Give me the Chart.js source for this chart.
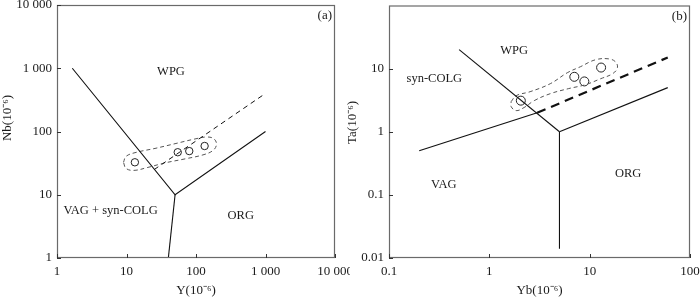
<!DOCTYPE html>
<html><head><meta charset="utf-8">
<script src="https://cdn.jsdelivr.net/npm/chart.js@4.4.1/dist/chart.umd.min.js"></script>
<style>
html,body{margin:0;padding:0;background:#fff;}
#wrap{position:relative;width:700px;height:298px;overflow:hidden;}
.pane{position:absolute;top:0;height:298px;}
</style></head><body>
<div id="wrap">
<div class="pane" style="left:0;width:350px"><canvas id="ca"></canvas></div>
<div class="pane" style="left:345px;width:355px"><canvas id="cb"></canvas></div>
</div>
<script>
// ---------- Panel (a): Nb vs Y ----------
const aXTicks = [1, 10, 100, 1000, 10000];
const aXTickLabels = ['1', '10', '100', '1 000', '10 000'];
const aYTicks = [1, 10, 100, 1000, 10000];
const aYTickLabels = ['1', '10', '100', '1 000', '10 000'];
const aSampleY = [13.2, 54.6, 80, 133];
const aSampleNb = [32.6, 47, 49, 59];
const aLine1Y = [1.66, 50, 1000];
const aLine1Nb = [1000, 10, 100];
const aLine2Y = [50, 40];
const aLine2Nb = [10, 1];
const aDashY = [25, 1000];
const aDashNb = [25, 400];
const aEnvY = [9.06, 9.84, 13.7, 25.7, 51.5, 96.8, 144, 182, 197, 176, 126, 69.5, 35.8, 20.4, 12.8, 9.84, 9.06];
const aEnvNb = [32.5, 40.4, 46.7, 54.0, 64.7, 76.2, 81.9, 76.2, 62.4, 50.2, 42.7, 36.9, 31.9, 27.1, 24.3, 26.1, 32.5];
const aRegionText = ['WPG', 'VAG + syn-COLG', 'ORG'];
const aRegionY = [43.7, 5.9, 441];
const aRegionNb = [871, 5.6, 4.7];

// ---------- Panel (b): Ta vs Yb ----------
const bXTicks = [0.1, 1, 10, 100];
const bXTickLabels = ['0.1', '1', '10', '100'];
const bYTicks = [0.01, 0.1, 1, 10];
const bYTickLabels = ['0.01', '0.1', '1', '10'];
const bSampleYb = [2.06, 7.03, 8.85, 13.0];
const bSampleTa = [3.11, 7.42, 6.27, 10.4];
const bWpgYb = [0.5, 5];
const bWpgTa = [20, 1];
const bOrgYb = [5, 60];
const bOrgTa = [1, 5];
const bVertYb = [5, 5];
const bVertTa = [1, 0.014];
const bVagYb = [0.2, 3];
const bVagTa = [0.5, 2];
const bDashYb = [3, 60];
const bDashTa = [2, 15];
const bEnvYb = [1.65, 1.85, 2.55, 4.05, 5.98, 8.07, 11.4, 15.4, 18.1, 18.9, 16.9, 12.8, 9.06, 6.12, 4.05, 2.80, 2.22, 1.85, 1.65, 1.65];
const bEnvTa = [3.0, 3.73, 4.31, 5.77, 8.6, 10.7, 13.8, 14.3, 12.8, 10.3, 8.3, 6.9, 5.56, 4.81, 4.01, 3.11, 2.42, 2.16, 2.5, 3.0];
const bRegionText = ['WPG', 'syn-COLG', 'VAG', 'ORG'];
const bRegionYb = [1.77, 0.283, 0.352, 24.2];
const bRegionTa = [19.4, 6.84, 0.144, 0.214];

const SERIF = '"Liberation Serif", "Times New Roman", serif';
const pts = (xs, ys) => xs.map((v, i) => ({x: v, y: ys[i]}));

const decor = {
  id: 'decor',
  afterDraw(chart, args, o) {
    const {ctx, chartArea: ca} = chart;
    const x = chart.scales.x, y = chart.scales.y;
    ctx.save();
    ctx.strokeStyle = '#6a6a6a'; ctx.lineWidth = 1.2;
    ctx.strokeRect(ca.left + 0.5, ca.top + 0.5, ca.right - ca.left - 1, ca.bottom - ca.top - 1);
    ctx.strokeStyle = '#333'; ctx.lineWidth = 1;
    o.xTicks.forEach(v => {
      const px = Math.round(x.getPixelForValue(v)) + 0.5;
      ctx.beginPath(); ctx.moveTo(px, ca.bottom); ctx.lineTo(px, ca.bottom - 4); ctx.stroke();
    });
    o.yTicks.forEach(v => {
      const py = Math.round(y.getPixelForValue(v)) + 0.5;
      ctx.beginPath(); ctx.moveTo(ca.left, py); ctx.lineTo(ca.left + 4, py); ctx.stroke();
    });
    ctx.fillStyle = '#1a1a1a';
    ctx.font = '12.5px ' + SERIF; ctx.textAlign = 'center'; ctx.textBaseline = 'middle';
    o.text.forEach((t, i) => ctx.fillText(t, x.getPixelForValue(o.tx[i]), y.getPixelForValue(o.ty[i])));
    ctx.font = '13px ' + SERIF; ctx.textAlign = 'right';
    ctx.fillText(o.tag, ca.right - 3, ca.top + 11);
    ctx.translate(o.yTitleX, ca.top + o.yTitleDy); ctx.rotate(-Math.PI / 2);
    ctx.textAlign = 'center'; ctx.fillText(o.yTitle, 0, 0);
    ctx.restore();
  }
};

function makeChart(id, cfg) {
  const tickFont = {family: SERIF, size: 13};
  return new Chart(document.getElementById(id), {
    type: 'scatter',
    data: {datasets: cfg.datasets},
    options: {
      responsive: true, maintainAspectRatio: false, animation: false,
      layout: {padding: {top: 4, right: cfg.padRight, left: 0, bottom: 0}},
      plugins: {legend: {display: false}, tooltip: {enabled: false}, decor: cfg.decor},
      scales: {
        x: {
          type: 'logarithmic', min: cfg.xMin, max: cfg.xMax,
          afterBuildTicks: s => { s.ticks = cfg.xTicks.map(v => ({value: v})); },
          afterFit: s => { s.height = 40; s.paddingLeft = 0; s.paddingRight = 0; },
          ticks: {autoSkip: false, maxRotation: 0, padding: 6, color: '#1a1a1a', font: tickFont,
            callback: v => cfg.xTickLabels[cfg.xTicks.indexOf(v)]},
          grid: {display: false, drawTicks: false}, border: {display: false},
          title: {display: true, text: cfg.xTitle, color: '#1a1a1a', font: tickFont, padding: {top: 0, bottom: 0}}
        },
        y: {
          type: 'logarithmic', min: cfg.yMin, max: cfg.yMax,
          afterBuildTicks: s => { s.ticks = cfg.yTicks.map(v => ({value: v})); },
          afterFit: s => { s.width = cfg.yWidth; s.paddingTop = 0; s.paddingBottom = 0; },
          ticks: {autoSkip: false, padding: 5, color: '#1a1a1a', font: tickFont,
            callback: v => cfg.yTickLabels[cfg.yTicks.indexOf(v)]},
          grid: {display: false, drawTicks: false}, border: {display: false}
        }
      }
    },
    plugins: [decor]
  });
}

const lineDs = (data, extra) => Object.assign({data, showLine: true, pointRadius: 0, borderColor: '#111', borderWidth: 1.1, fill: false, tension: 0}, extra || {});

makeChart('ca', {
  xMin: 1, xMax: 10000, yMin: 1, yMax: 10000,
  xTicks: aXTicks, xTickLabels: aXTickLabels, yTicks: aYTicks, yTickLabels: aYTickLabels,
  xTitle: 'Y(10⁻⁶)', yWidth: 57, padRight: 15,
  datasets: [
    lineDs(pts(aLine1Y, aLine1Nb)),
    lineDs(pts(aLine2Y, aLine2Nb)),
    lineDs(pts(aDashY, aDashNb), {borderDash: [5, 4], borderWidth: 1}),
    lineDs(pts(aEnvY, aEnvNb), {borderDash: [4, 3], borderWidth: 1, borderColor: '#555', tension: 0.4}),
    {data: pts(aSampleY, aSampleNb), showLine: false, pointRadius: 3.7, pointBorderWidth: 1, pointBorderColor: '#222', pointBackgroundColor: 'rgba(255,255,255,0)'}
  ],
  decor: {xTicks: aXTicks, yTicks: aYTicks, text: aRegionText, tx: aRegionY, ty: aRegionNb,
    tag: '(a)', yTitle: 'Nb(10⁻⁶)', yTitleX: 8, yTitleDy: 113}
});

makeChart('cb', {
  xMin: 0.1, xMax: 100, yMin: 0.01, yMax: 100,
  xTicks: bXTicks, xTickLabels: bXTickLabels, yTicks: bYTicks, yTickLabels: bYTickLabels,
  xTitle: 'Yb(10⁻⁶)', yWidth: 44, padRight: 10,
  datasets: [
    lineDs(pts(bWpgYb, bWpgTa)),
    lineDs(pts(bOrgYb, bOrgTa)),
    lineDs(pts(bVertYb, bVertTa)),
    lineDs(pts(bVagYb, bVagTa)),
    lineDs(pts(bDashYb, bDashTa), {borderDash: [9, 6], borderWidth: 2.2}),
    lineDs(pts(bEnvYb, bEnvTa), {borderDash: [4, 3], borderWidth: 1, borderColor: '#555', tension: 0.4}),
    {data: pts(bSampleYb, bSampleTa), showLine: false, pointRadius: 4.5, pointBorderWidth: 1, pointBorderColor: '#222', pointBackgroundColor: 'rgba(255,255,255,0)'}
  ],
  decor: {xTicks: bXTicks, yTicks: bYTicks, text: bRegionText, tx: bRegionYb, ty: bRegionTa,
    tag: '(b)', yTitle: 'Ta(10⁻⁶)', yTitleX: 8, yTitleDy: 117}
});
</script>
</body></html>
